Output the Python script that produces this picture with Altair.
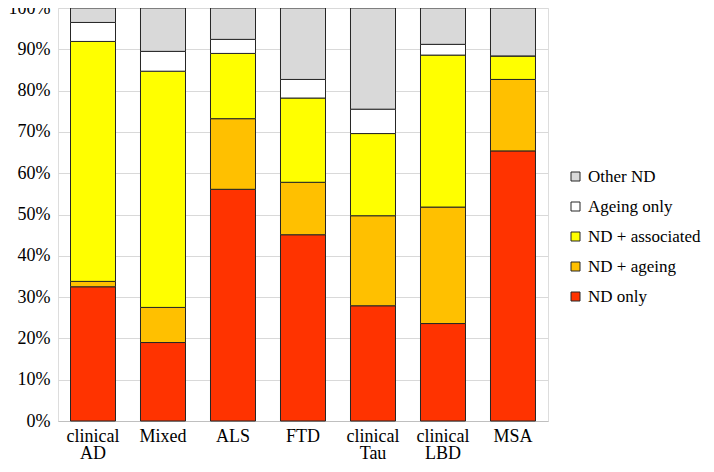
import altair as alt
import pandas as pd

categories = ["clinical AD", "Mixed", "ALS", "FTD", "clinical Tau", "clinical LBD", "MSA"]
series = ["ND only", "ND + ageing", "ND + associated", "Ageing only", "Other ND"]
nd_only = [32.5, 19.0, 56.1, 45.1, 27.9, 23.6, 65.4]
nd_ageing = [1.3, 8.5, 17.1, 12.7, 21.8, 28.2, 17.3]
nd_assoc = [58.1, 57.2, 15.8, 20.4, 19.9, 36.8, 5.7]
ageing_only = [4.6, 4.8, 3.4, 4.5, 5.9, 2.6, 0.0]
other_nd = [3.5, 10.5, 7.6, 17.3, 24.5, 8.8, 11.6]
colors = ["#FF3300", "#FFC000", "#FFFF00", "#FFFFFF", "#D9D9D9"]

values = [nd_only, nd_ageing, nd_assoc, ageing_only, other_nd]
rows = []
for si, (s, vals) in enumerate(zip(series, values)):
    for c, v in zip(categories, vals):
        rows.append({"category": c, "series": s, "value": v / 100.0, "ord": si})
df = pd.DataFrame(rows)

legend_order = series[::-1]
legend_colors = colors[::-1]

FONT = "Liberation Serif"

chart = alt.Chart(df).mark_bar(stroke="#262626", strokeWidth=1).encode(
    x=alt.X("category:N", sort=categories, title=None,
            scale=alt.Scale(paddingInner=0.357, paddingOuter=0.1786),
            axis=alt.Axis(labelAngle=0, ticks=False, grid=False, domainColor="#BFBFBF",
                          labelExpr="split(datum.label, ' ')", labelLineHeight=17,
                          labelPadding=6, labelFont=FONT, labelFontSize=18,
                          labelColor="#000000")),
    y=alt.Y("value:Q", stack="zero", title=None,
            scale=alt.Scale(domain=[0, 1], nice=False),
            axis=alt.Axis(format=".0%", values=[i / 10 for i in range(11)], ticks=False,
                          domain=False, gridColor="#D9D9D9", labelPadding=8,
                          labelFont=FONT, labelFontSize=18, labelColor="#000000")),
    color=alt.Color("series:N", scale=alt.Scale(domain=legend_order, range=legend_colors),
                    title=None,
                    legend=alt.Legend(orient="none", legendX=509, legendY=160,
                                      symbolType="square", symbolSize=81,
                                      symbolStrokeColor="#262626", symbolStrokeWidth=1,
                                      rowPadding=12, labelOffset=4, padding=0,
                                      labelFont=FONT, labelFontSize=17,
                                      labelColor="#000000")),
    order=alt.Order("ord:Q", sort="ascending"),
).properties(
    width=490, height=413,
    autosize=alt.AutoSizeParams(type="none"),
    padding={"left": 50, "top": 0, "right": 158, "bottom": 43},
).configure_view(stroke=None).configure(background="white")

chart.save("out.html", embed_options={"renderer": "svg", "actions": False})
